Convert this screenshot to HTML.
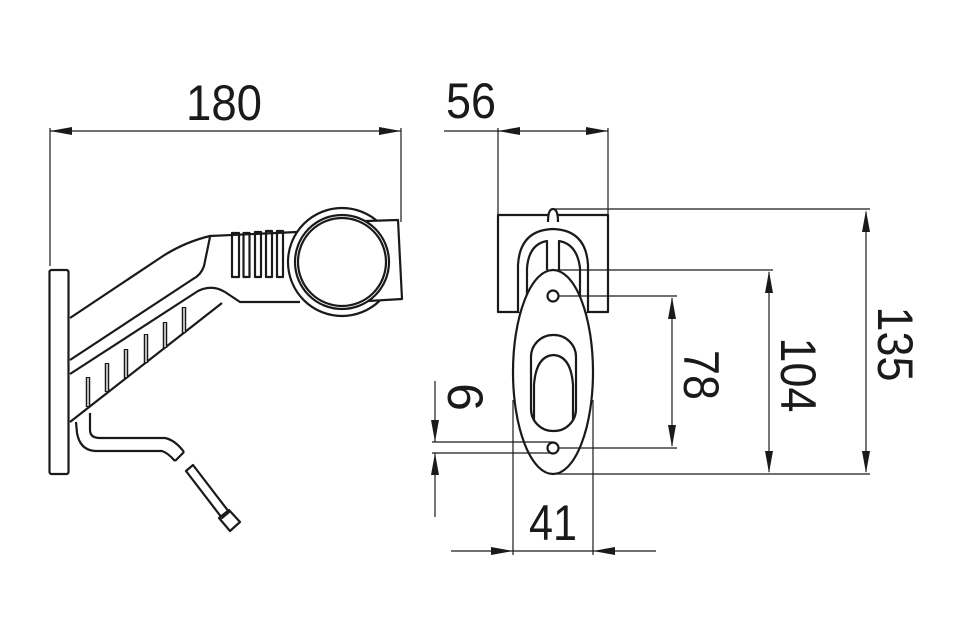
<!DOCTYPE html>
<html><head><meta charset="utf-8"><style>
html,body{margin:0;padding:0;background:#fff;}
svg{display:block;}
text{font-family:"Liberation Sans",sans-serif;fill:#1a1a1a;}
</style></head><body>
<svg width="962" height="626" viewBox="0 0 962 626" xmlns="http://www.w3.org/2000/svg">
<g fill="none" stroke="#1a1a1a" stroke-width="1.2">
<line x1="50" y1="128" x2="50" y2="266"/>
<line x1="401" y1="128" x2="401" y2="222"/>
<line x1="50" y1="131" x2="401" y2="131"/>
<line x1="444" y1="131" x2="608" y2="131"/>
<line x1="498" y1="128" x2="498" y2="214"/>
<line x1="608" y1="128" x2="608" y2="214"/>
</g>
<!-- Left drawing -->
<g fill="none" stroke="#1a1a1a" stroke-width="2.2" stroke-linejoin="round">
<rect x="49.5" y="270" width="19" height="204" rx="2" fill="#fff"/>
<circle cx="342" cy="262" r="54" fill="#fff"/>
<path d="M366,221 L398,220 L402,299 L368,301" fill="#fff"/>
<circle cx="342" cy="262" r="47"/>
<circle cx="342" cy="262" r="44"/>
<path d="M70,318 L163,256 Q185,242 210,236 L297,232"/>
<path d="M210,237 L204,266 Q201,275 193,279 L70,360"/>
<path d="M70,374 L198,291 Q212,284 225,292 L240,302 L300,302"/>
<path d="M70,422 L222,303"/>
<rect x="232" y="233" width="7" height="44"/>
<rect x="243.5" y="233" width="6" height="44"/>
<rect x="255" y="232" width="6" height="45"/>
<rect x="266" y="231" width="6" height="46"/>
<rect x="277" y="231" width="6" height="46"/>
</g>
<g stroke="#1a1a1a" stroke-width="4.5" fill="none">
<line x1="88" y1="377" x2="88" y2="407"/>
<line x1="107" y1="363" x2="107" y2="392"/>
<line x1="126" y1="349" x2="126" y2="378"/>
<line x1="146" y1="334" x2="146" y2="363"/>
<line x1="165" y1="322" x2="165" y2="348"/>
<line x1="184" y1="307" x2="184" y2="333"/>
</g>
<g stroke="#fff" stroke-width="1.4" fill="none">
<line x1="88" y1="378" x2="88" y2="406"/>
<line x1="107" y1="364" x2="107" y2="391"/>
<line x1="126" y1="350" x2="126" y2="377"/>
<line x1="146" y1="335" x2="146" y2="362"/>
<line x1="165" y1="323" x2="165" y2="347"/>
<line x1="184" y1="308" x2="184" y2="332"/>
</g>
<g fill="none" stroke="#1a1a1a" stroke-width="2.2" stroke-linejoin="round">
<path d="M90,413 L90,430 Q90,438 100,438 L165,438 Q175,440 184,452"/>
<path d="M76,422 L77,433 Q80,450 95,451 L162,451 Q168,453 175,461"/>
<line x1="184" y1="452" x2="175" y2="461"/>
<polygon points="186,471 193,465 229,512 222,518"/>
<polygon points="219,518 229,510 240,522 230,531"/>
</g>
<!-- Right drawing -->
<g fill="none" stroke="#1a1a1a" stroke-width="2.2" stroke-linejoin="round">
<rect x="498" y="215" width="110" height="97" fill="#fff"/>
<path d="M548,222 Q548,209 553,209 Q558,209 558,222" fill="#fff"/>
<path d="M518,312 L518,265 Q520,230 553,229 Q586,230 588,265 L588,312" fill="#fff"/>
<path d="M527,312 L527,268 Q529,244 547,241 L547,270 M559,270 L559,241 Q577,244 580,268 L580,312"/>
<ellipse cx="553" cy="372" rx="40" ry="102" fill="#fff"/>
<rect x="531" y="335" width="45" height="96" rx="22"/>
<path d="M534,420 L534,385 Q536,356 553.5,355 Q571,356 573,385 L573,420"/>
</g>
<!-- extension lines on top -->
<g fill="none" stroke="#1a1a1a" stroke-width="1.2">
<line x1="553" y1="209" x2="870" y2="209"/>
<line x1="553" y1="270" x2="773" y2="270"/>
<line x1="553" y1="296" x2="677" y2="296"/>
<line x1="553" y1="448" x2="677" y2="448"/>
<line x1="553" y1="474" x2="870" y2="474"/>
<line x1="866" y1="212" x2="866" y2="472"/>
<line x1="769" y1="272" x2="769" y2="472"/>
<line x1="672" y1="298" x2="672" y2="446"/>
<line x1="432" y1="442" x2="553" y2="442"/>
<line x1="432" y1="453" x2="553" y2="453"/>
<line x1="435" y1="381" x2="435" y2="442"/>
<line x1="435" y1="453" x2="435" y2="517"/>
<line x1="513" y1="400" x2="513" y2="555"/>
<line x1="593" y1="400" x2="593" y2="555"/>
<line x1="451" y1="551" x2="656" y2="551"/>
</g>
<g fill="#fff" stroke="#1a1a1a" stroke-width="2.2">
<circle cx="553" cy="296" r="5.5"/>
<circle cx="553" cy="448" r="5.5"/>
</g>
<g fill="#1a1a1a">
<polygon points="50,131 72,127 72,135"/>
<polygon points="401,131 379,127 379,135"/>
<polygon points="498,131 520,127 520,135"/>
<polygon points="608,131 586,127 586,135"/>
<polygon points="866,210 862,232 870,232"/>
<polygon points="866,473 862,451 870,451"/>
<polygon points="769,271 765,293 773,293"/>
<polygon points="769,473 765,451 773,451"/>
<polygon points="672,297 668,319 676,319"/>
<polygon points="672,447 668,425 676,425"/>
<polygon points="435,442 431,420 439,420"/>
<polygon points="435,453 431,475 439,475"/>
<polygon points="513,551 491,547 491,555"/>
<polygon points="593,551 615,547 615,555"/>
</g>
<text x="224" y="120" font-size="50" text-anchor="middle" textLength="76" lengthAdjust="spacingAndGlyphs">180</text>
<text x="471" y="118" font-size="50" text-anchor="middle" textLength="50" lengthAdjust="spacingAndGlyphs">56</text>
<text x="553" y="540" font-size="50" text-anchor="middle" textLength="48" lengthAdjust="spacingAndGlyphs">41</text>
<text transform="translate(684,375) rotate(90)" font-size="50" text-anchor="middle" textLength="50" lengthAdjust="spacingAndGlyphs">78</text>
<text transform="translate(781,375) rotate(90)" font-size="50" text-anchor="middle" textLength="75" lengthAdjust="spacingAndGlyphs">104</text>
<text transform="translate(878,344) rotate(90)" font-size="50" text-anchor="middle" textLength="75" lengthAdjust="spacingAndGlyphs">135</text>
<text transform="translate(448,397) rotate(90)" font-size="50" text-anchor="middle">6</text>
</svg>
</body></html>
